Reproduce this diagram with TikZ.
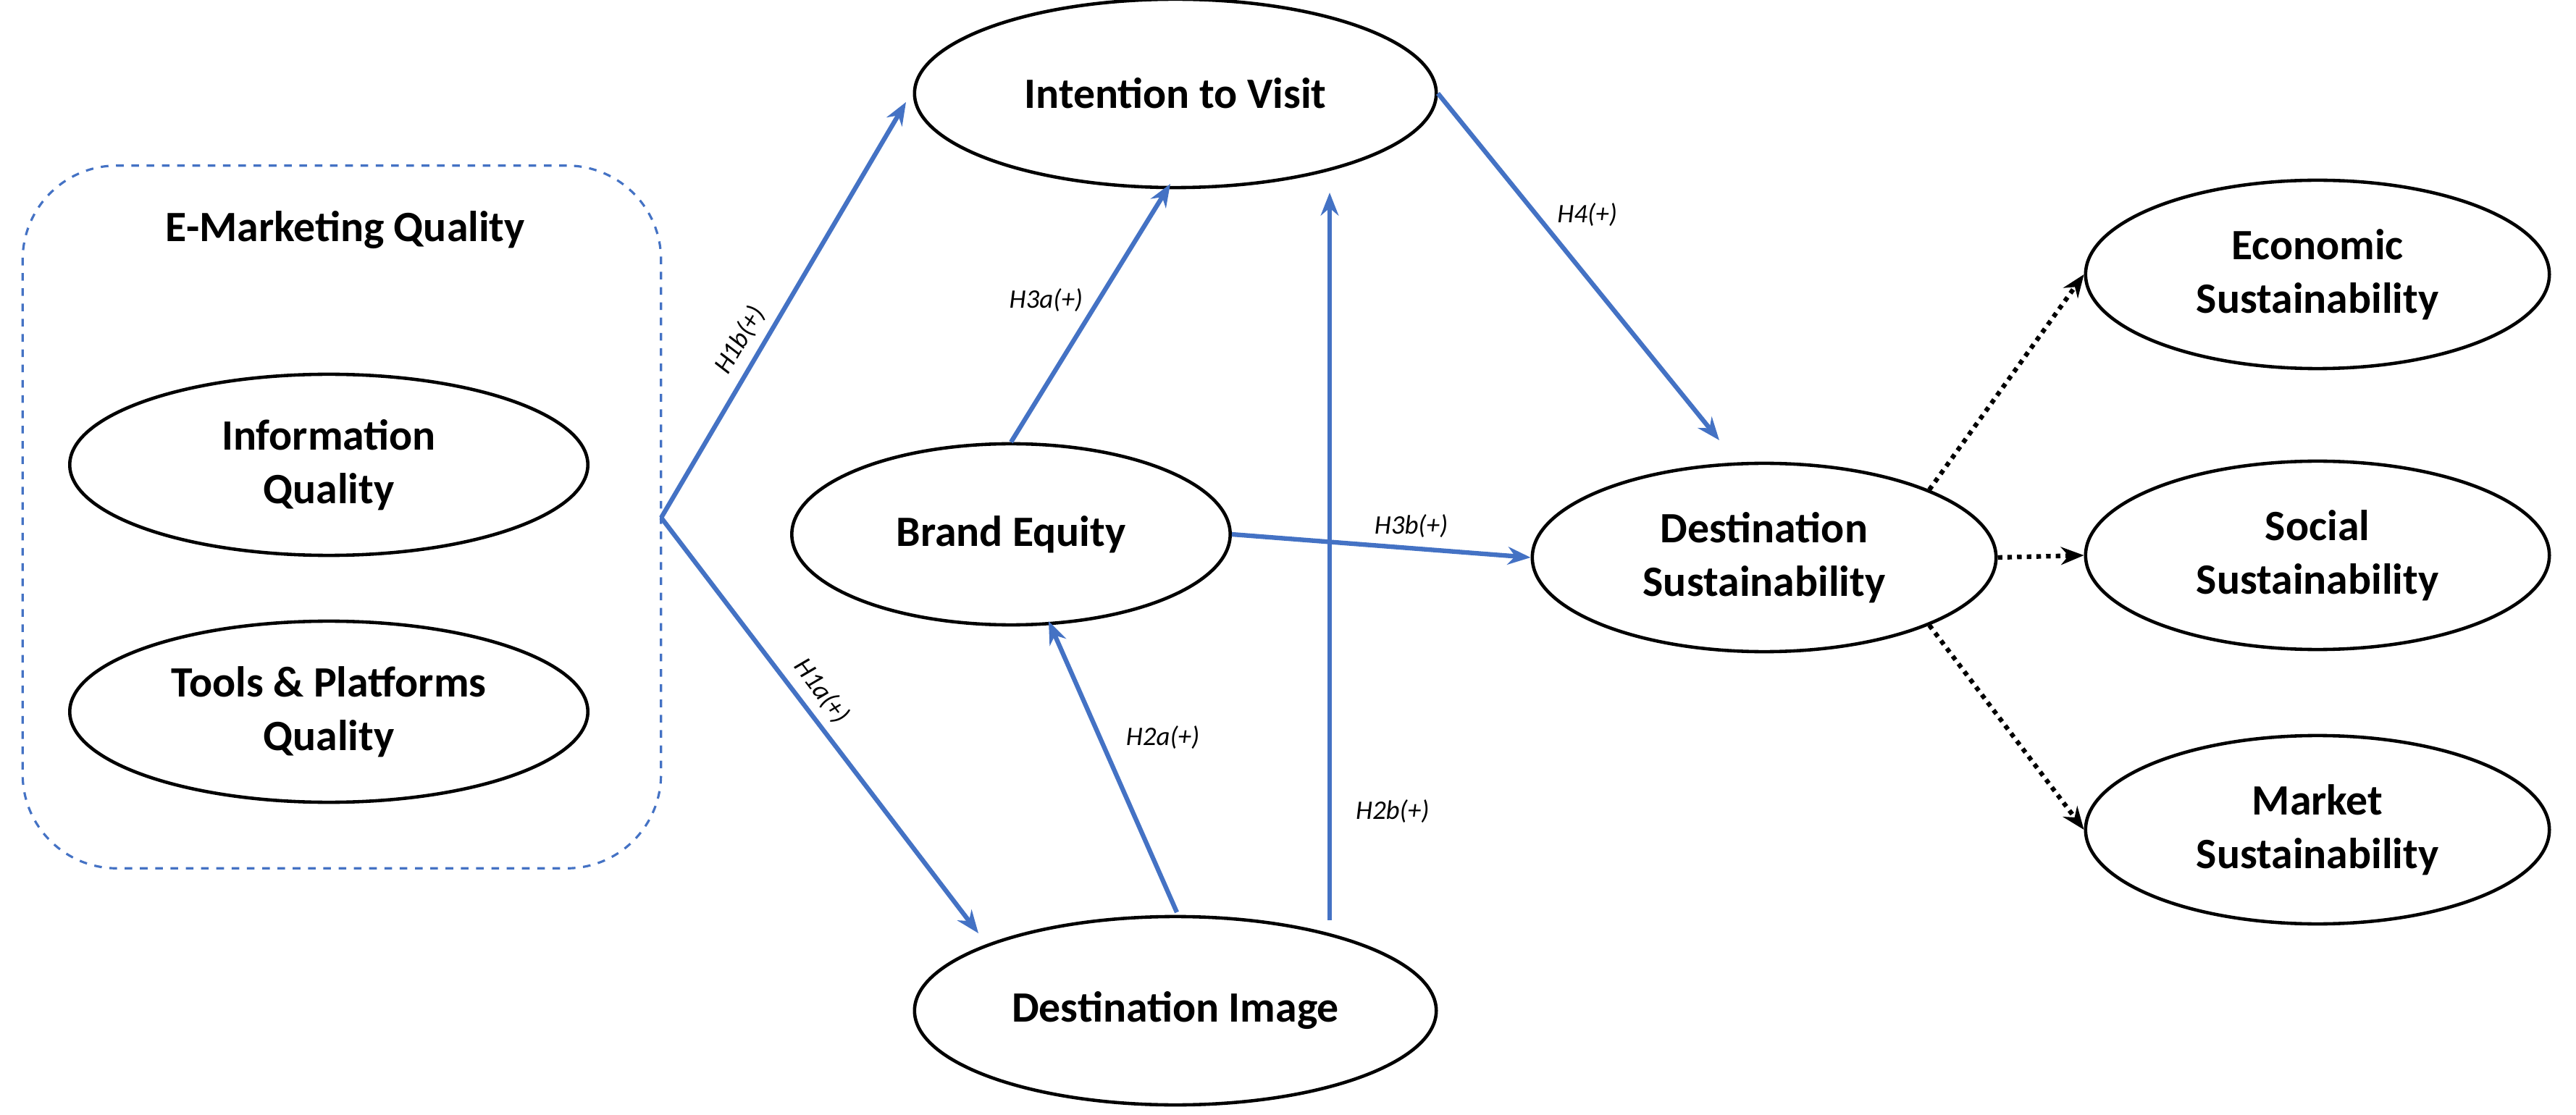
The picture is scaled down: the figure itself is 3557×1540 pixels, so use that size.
\documentclass[tikz,border=0pt]{standalone}
\usepackage{fontspec}
\setmainfont{Carlito}
\usetikzlibrary{shapes.geometric,arrows.meta}
\definecolor{lblue}{HTML}{4472C4}
\begin{document}
\begin{tikzpicture}[x=0.01cm,y=-0.01cm,
  ell/.style={draw,line width=1.3pt,ellipse,minimum width=#1,align=center,font=\fontsize{17}{21}\selectfont\bfseries},
  ell/.default=7.15cm,
  hyp/.style={draw=lblue,line width=1.8pt,-{Stealth[length=9pt,width=7pt]}},
  dot/.style={draw=black,line width=1.8pt,dotted,-{Stealth[length=9pt,width=7pt]}},
  lab/.style={font=\fontsize{10.5}{12}\selectfont\itshape}]
\useasboundingbox (0,0) rectangle (3557,1540);
\node[draw=lblue,dashed,line width=0.9pt,rounded corners=1.3cm,minimum width=8.81cm,minimum height=9.7cm] (box) at (472,714) {};
\node[font=\fontsize{17}{20}\selectfont\bfseries] (emq) at (477,318) {E-Marketing Quality};
\node[ell,minimum height=2.5cm] (iq) at (454,642) {Information\\Quality};
\node[ell,minimum height=2.5cm] (tp) at (454,983) {Tools \& Platforms\\Quality};
\node[ell=7.2cm,minimum height=2.6cm] (itv) at (1623,129) {Intention to Visit};
\node[ell=6.05cm,minimum height=2.5cm] (be) at (1396,738) {Brand Equity};
\node[ell=7.2cm,minimum height=2.6cm] (di) at (1623,1396) {Destination Image};
\node[ell=6.4cm,minimum height=2.6cm] (ds) at (2436,770) {Destination\\Sustainability};
\node[ell=6.4cm,minimum height=2.6cm] (ec) at (3200,379) {Economic\\Sustainability};
\node[ell=6.4cm,minimum height=2.6cm] (so) at (3200,767) {Social\\Sustainability};
\node[ell=6.4cm,minimum height=2.6cm] (ma) at (3200,1146) {Market\\Sustainability};
\coordinate (apex) at (913,715);
\coordinate (h1bend) at (1251,141);
\coordinate (h1aend) at (1351,1289);
\coordinate (h3aend) at (1616,254);
\coordinate (h2bs) at (1836,1271);
\coordinate (h2be) at (1836,266);
\coordinate (h2as) at (1625,1260);
\coordinate (h2ae) at (1448,858);
\coordinate (h4end) at (2374,608);
\draw[hyp] (apex) -- node[lab,sloped,above,pos=0.4]{H1b(+)} (h1bend);
\draw[hyp] (apex) -- node[lab,sloped,above,pos=0.45]{H1a(+)} (h1aend);
\draw[hyp] (be.north) -- node[lab,left,pos=0.55,xshift=-2pt]{H3a(+)} (h3aend);
\draw[hyp] (h2bs) -- node[lab,right,pos=0.15,xshift=6pt]{H2b(+)} (h2be);
\draw[hyp] (h2as) -- node[lab,right,pos=0.6,xshift=6pt]{H2a(+)} (h2ae);
\draw[hyp] (be.east) -- node[lab,above,pos=0.6]{H3b(+)} (ds.west);
\draw[hyp] (itv.east) -- node[lab,right,pos=0.35,xshift=4pt]{H4(+)} (h4end);
\draw[dot] (ds.north east) -- (ec.west);
\draw[dot] (ds.east) -- (so.west);
\draw[dot] (ds.south east) -- (ma.west);
\end{tikzpicture}
\end{document}
